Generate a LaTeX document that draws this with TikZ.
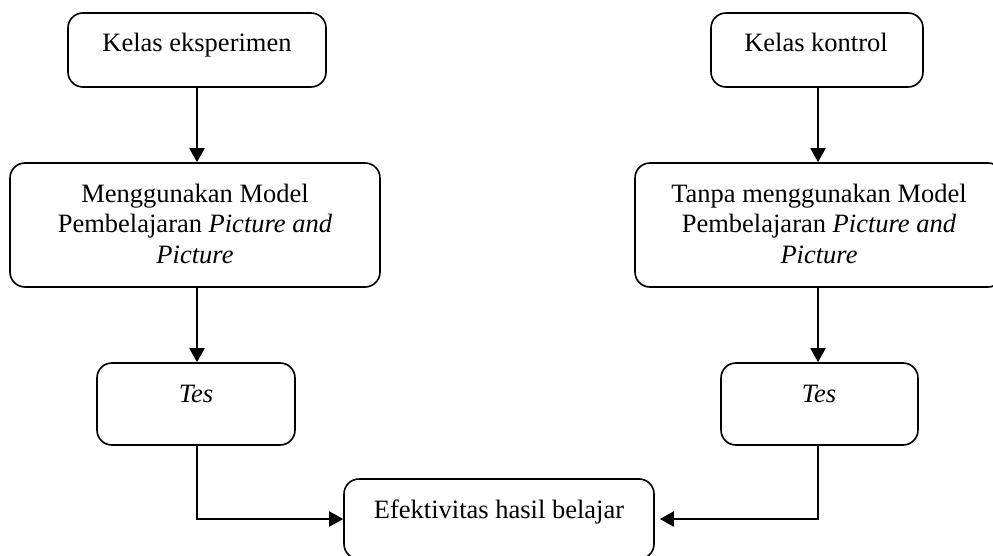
\documentclass[tikz,border=0pt]{standalone}
\usepackage{fontspec}
\setmainfont{Liberation Serif}
\usetikzlibrary{arrows.meta}
\tikzset{
  box/.style={draw=black, line width=1.6pt, rounded corners=15pt, inner sep=0pt},
  txt/.style={anchor=base, inner sep=0pt, font=\fontsize{26.5}{30}\selectfont},
  arr/.style={line width=2pt, -{Triangle[length=14pt,width=15pt]}},
}
\begin{document}
\begin{tikzpicture}[x=1pt,y=-1pt]
\useasboundingbox (0,0) rectangle (993,556);
\fill[white] (0,0) rectangle (993,556);
\clip (0,0) rectangle (993,556);
% boxes
\node[box, minimum width=258pt, minimum height=74pt] (kelasE) at (197,50) {};
\node[box, minimum width=212pt, minimum height=74pt] (kelasK) at (817,50) {};
\node[box, minimum width=370pt, minimum height=124pt] (modelE) at (195,225) {};
\node[box, minimum width=368pt, minimum height=124pt] (modelK) at (819,225) {};
\node[box, minimum width=198pt, minimum height=82pt] (tesE) at (196,404) {};
\node[box, minimum width=197pt, minimum height=82pt] (tesK) at (819.5,404) {};
\node[box, minimum width=310pt, minimum height=80pt] (efek) at (499,519) {};
% texts
\node[txt] (tKE) at (197,52) {Kelas eksperimen};
\node[txt] (tKK) at (816,52) {Kelas kontrol};
\node[txt] (tME1) at (195,203) {Menggunakan Model};
\node[txt] (tME2) at (195,233) {Pembelajaran \textit{Picture and}};
\node[txt] (tME3) at (195,263) {\textit{Picture}};
\node[txt] (tMK1) at (819,203) {Tanpa menggunakan Model};
\node[txt] (tMK2) at (819,233) {Pembelajaran \textit{Picture and}};
\node[txt] (tMK3) at (819,263) {\textit{Picture}};
\node[txt] (tTE) at (196,402) {\textit{Tes}};
\node[txt] (tTK) at (819,402) {\textit{Tes}};
\node[txt] (tEf) at (499,518) {Efektivitas hasil belajar};
% connectors
\coordinate (xL) at (197,0);
\coordinate (xR) at (818,0);
\draw[arr] (xL |- kelasE.south) -- (xL |- modelE.north);
\draw[arr] (xL |- modelE.south) -- (xL |- tesE.north);
\draw[arr] (xR |- kelasK.south) -- (xR |- modelK.north);
\draw[arr] (xR |- modelK.south) -- (xR |- tesK.north);
\draw[arr] (xL |- tesE.south) |- (efek.west);
\draw[arr, shorten >=5pt] (xR |- tesK.south) |- (efek.east);
\end{tikzpicture}
\end{document}
